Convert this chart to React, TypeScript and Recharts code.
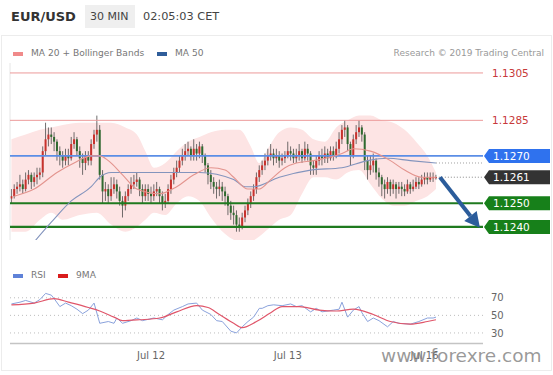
import {
  Area,
  Bar,
  ComposedChart,
  Line,
  ReferenceLine,
  XAxis,
  YAxis,
} from "recharts";

// 30 min candles, Jul 10 23:30 -> Jul 16 02:00 CET (weekend gap skipped)
const FIRST_OPEN = 1.1252;

const closes = [
  1.1253, 1.1256, 1.1257, 1.1258, 1.1256, 1.126, 1.1262, 1.1259, 1.1261, 1.1262,
  1.1263, 1.1272, 1.1277, 1.1279, 1.1278, 1.1276, 1.1272, 1.127, 1.1268, 1.127,
  1.1269, 1.1275, 1.1277, 1.1272, 1.1269, 1.1267, 1.127, 1.1268, 1.1275, 1.1279,
  1.1281, 1.1262, 1.1255, 1.1256, 1.1253, 1.1256, 1.1258, 1.1255, 1.1251, 1.1249,
  1.1253, 1.1256, 1.1258, 1.1259, 1.126, 1.1256, 1.1253, 1.1256, 1.1254, 1.1253,
  1.1255, 1.1256, 1.1253, 1.125, 1.1251, 1.1256, 1.126, 1.1263, 1.1265, 1.1268,
  1.127, 1.1272, 1.1273, 1.127, 1.1273, 1.1271, 1.1274, 1.127, 1.1266, 1.1262,
  1.1259, 1.1257, 1.1256, 1.1257, 1.1255, 1.1253, 1.1249, 1.1246, 1.1245, 1.1241,
  1.124, 1.1244, 1.1247, 1.125, 1.1253, 1.1256, 1.1261, 1.1264, 1.1266, 1.1268,
  1.127, 1.1271, 1.1269, 1.127, 1.1268, 1.1269, 1.127, 1.1272, 1.1271, 1.1269,
  1.127, 1.1272, 1.1269, 1.1273, 1.1271, 1.1266, 1.1265, 1.1268, 1.127, 1.1269,
  1.1271, 1.1269, 1.1272, 1.127, 1.1273, 1.1277, 1.1281, 1.1282, 1.1275, 1.127,
  1.1277, 1.128, 1.1282, 1.1279, 1.1268, 1.1264, 1.1266, 1.1268, 1.1263, 1.1261,
  1.1258, 1.1256, 1.1259, 1.1256, 1.1258, 1.1256, 1.1257, 1.1256, 1.1255, 1.1258,
  1.1256, 1.1257, 1.1259, 1.1258, 1.126, 1.1261, 1.126, 1.1261, 1.1261, 1.1261,
];

const highs = [
  1.1256, 1.1258, 1.1259, 1.1262, 1.126, 1.1263, 1.1264, 1.1263, 1.1263, 1.1265,
  1.1265, 1.1274, 1.1284, 1.1282, 1.1282, 1.128, 1.1277, 1.1274, 1.1272, 1.1273,
  1.1273, 1.1278, 1.128, 1.1278, 1.1274, 1.1271, 1.1272, 1.1272, 1.1277, 1.1281,
  1.1287, 1.1283, 1.1264, 1.1259, 1.1258, 1.1261, 1.1261, 1.126, 1.1257, 1.1253,
  1.1255, 1.1258, 1.1261, 1.1262, 1.1263, 1.1261, 1.1258, 1.1258, 1.1258, 1.1257,
  1.1258, 1.1259, 1.1257, 1.1255, 1.1254, 1.1258, 1.1262, 1.1265, 1.1268, 1.127,
  1.1273, 1.1275, 1.1276, 1.1274, 1.1277, 1.1275, 1.1276, 1.1275, 1.1271, 1.1267,
  1.1264, 1.1261, 1.1259, 1.126, 1.1259, 1.1257, 1.1254, 1.1251, 1.1249, 1.1247,
  1.1244, 1.1246, 1.1249, 1.1252, 1.1255, 1.1258, 1.1263, 1.1266, 1.1268, 1.1271,
  1.1273, 1.1275, 1.1273, 1.1273, 1.1272, 1.1271, 1.1272, 1.1276, 1.1274, 1.1273,
  1.1273, 1.1275, 1.1273, 1.1276, 1.1275, 1.1272, 1.1268, 1.127, 1.1272, 1.1273,
  1.1274, 1.1273, 1.1274, 1.1274, 1.1276, 1.128, 1.1283, 1.1285, 1.1283, 1.1276,
  1.1279, 1.1283, 1.1285, 1.1283, 1.128, 1.127, 1.127, 1.1271, 1.1269, 1.1265,
  1.1262, 1.126, 1.1261, 1.126, 1.126, 1.1259, 1.1259, 1.1259, 1.1258, 1.126,
  1.1259, 1.126, 1.1261, 1.1261, 1.1262, 1.1263, 1.1263, 1.1263, 1.1263, 1.1262,
];

const lows = [
  1.125, 1.1252, 1.1254, 1.1255, 1.1254, 1.1255, 1.1258, 1.1256, 1.1257, 1.1258,
  1.126, 1.1261, 1.127, 1.1274, 1.1275, 1.1272, 1.1268, 1.1266, 1.1265, 1.1266,
  1.1266, 1.1268, 1.1273, 1.127, 1.1265, 1.1262, 1.1264, 1.1266, 1.1266, 1.1273,
  1.1276, 1.126, 1.125, 1.1251, 1.125, 1.1251, 1.1254, 1.1252, 1.1249, 1.1244,
  1.1247, 1.1251, 1.1254, 1.1256, 1.1257, 1.1253, 1.125, 1.1251, 1.1251, 1.125,
  1.1251, 1.1253, 1.125, 1.1247, 1.1248, 1.125, 1.1254, 1.1258, 1.1261, 1.1263,
  1.1266, 1.1268, 1.127, 1.1268, 1.1268, 1.1268, 1.1269, 1.1267, 1.1263, 1.1258,
  1.1256, 1.1254, 1.1252, 1.1253, 1.1251, 1.1249, 1.1245, 1.1243, 1.1241, 1.1238,
  1.1238, 1.1239, 1.1242, 1.1245, 1.1248, 1.1251, 1.1254, 1.1259, 1.1262, 1.1264,
  1.1266, 1.1268, 1.1266, 1.1267, 1.1265, 1.1266, 1.1267, 1.1269, 1.1268, 1.1267,
  1.1267, 1.1268, 1.1267, 1.1268, 1.1268, 1.1262, 1.1262, 1.1262, 1.1266, 1.1266,
  1.1267, 1.1267, 1.1268, 1.1268, 1.1269, 1.1271, 1.1275, 1.1278, 1.1272, 1.1266,
  1.1269, 1.1275, 1.1278, 1.1276, 1.1264, 1.126, 1.1262, 1.1263, 1.126, 1.1257,
  1.1253, 1.1252, 1.1254, 1.1253, 1.1254, 1.1252, 1.1254, 1.1253, 1.1253, 1.1254,
  1.1254, 1.1255, 1.1256, 1.1256, 1.1257, 1.1258, 1.1258, 1.1259, 1.1259, 1.126,
];

// Bollinger bands (20), read at sample candles
const bandIdx = [
  0, 5, 10, 14, 18, 24, 30, 35, 40, 44, 47, 50, 54, 58, 62, 66, 70, 75, 80, 84,
  87, 90, 94, 98, 102, 106, 110, 114, 118, 122, 126, 130, 134, 138, 142, 146, 149,
];
const upperBand = [
  1.1277, 1.1279, 1.1281, 1.1282, 1.1283, 1.1284, 1.1284, 1.1284, 1.1282, 1.1279,
  1.1272, 1.1265, 1.1267, 1.1272, 1.1276, 1.1278, 1.128, 1.1281, 1.1281, 1.1274,
  1.1267, 1.1273, 1.128, 1.1282, 1.1281, 1.1277, 1.1276, 1.1282, 1.1285, 1.1287,
  1.1287, 1.1285, 1.1284, 1.1281, 1.1276, 1.127, 1.1263,
];
const lowerBand = [
  1.1238, 1.1238, 1.1243, 1.1246, 1.1243, 1.1245, 1.1246, 1.1241, 1.1238, 1.124,
  1.1243, 1.1246, 1.1245, 1.125, 1.1253, 1.1251, 1.1244, 1.1237, 1.1234, 1.1234,
  1.1236, 1.1239, 1.1243, 1.1245, 1.1254, 1.1261, 1.1261, 1.126, 1.1263, 1.1264,
  1.1258, 1.1252, 1.1249, 1.1249, 1.1251, 1.1253, 1.1256,
];

const ma20Idx = [
  1, 8, 16, 22, 28, 31, 34, 39, 44, 52, 58, 64, 70, 75, 78, 83, 87, 91, 96, 100,
  106, 116, 120, 126, 133, 138, 144, 149,
];
const ma20Vals = [
  1.1253, 1.1256, 1.1263, 1.1267, 1.127, 1.127, 1.1268, 1.1262, 1.1256, 1.1254,
  1.1257, 1.1262, 1.1265, 1.1264, 1.1261, 1.1256, 1.1256, 1.126, 1.1265, 1.1267,
  1.1268, 1.1271, 1.1273, 1.1272, 1.1268, 1.1264, 1.1261, 1.1261,
];

const ma50Idx = [4, 14, 21, 28, 31, 35, 49, 66, 78, 82, 85, 94, 105, 116, 125, 132, 140, 149];
const ma50Vals = [
  1.1228, 1.1242, 1.1251, 1.1257, 1.1261, 1.1263, 1.1263, 1.1263, 1.126, 1.1257,
  1.1257, 1.1261, 1.1264, 1.1265, 1.1268, 1.1269, 1.1268, 1.1267,
];

const rsiIdx = [
  0, 3, 5, 8, 10, 12, 14, 15, 17, 19, 21, 23, 25, 27, 29, 31, 34, 36, 37, 39, 42,
  44, 46, 50, 53, 55, 57, 60, 62, 65, 67, 70, 72, 74, 77, 79, 81, 83, 85, 87, 88,
  90, 92, 95, 98, 100, 102, 105, 107, 109, 113, 115, 116, 118, 120, 122, 123, 125,
  127, 129, 132, 134, 136, 140, 143, 146, 148, 149,
];
const rsiVals = [
  63, 65, 67, 64, 68, 75, 73, 69, 60, 64, 61, 57, 52, 56, 64, 41, 43, 41, 47, 41, 44,
  47, 44, 47, 45, 51, 56, 60, 63, 64, 56, 51, 44, 43, 32, 30, 37, 43, 48, 58, 58,
  61, 62, 61, 63, 60, 61, 54, 58, 54, 56, 57, 65, 48, 56, 60, 53, 43, 47, 44, 37,
  43, 41, 40, 43, 47, 47, 48,
];

const ma9Idx = [
  0, 8, 15, 20, 27, 31, 36, 39, 45, 52, 58, 65, 69, 73, 78, 81, 86, 91, 95, 101,
  108, 114, 120, 127, 133, 140, 146, 149,
];
const ma9Vals = [
  62, 64, 69, 65, 59, 55, 48, 44, 45, 47, 54, 61, 59, 51, 41, 36, 43, 53, 60, 60,
  56, 55, 57, 51, 43, 40, 43, 45,
];

const dayTicks = [49, 97, 145];
const dayLabels = ["Jul 12", "Jul 13", "Jul 16"];

const LAST_PRICE = 1.1261;
const MA50_LAST = 1.1267;
const TARGET = 1.124;

const UP = "#c8312c";
const DOWN = "#2f6a2f";
const X_DOMAIN: [number, number] = [-0.5, 165.5];

const candles = closes.map((c, i) => ({
  i,
  o: i === 0 ? FIRST_OPEN : closes[i - 1],
  h: highs[i],
  l: lows[i],
  c,
}));
const bands = bandIdx.map((i, k) => ({ i, lo: lowerBand[k], up: upperBand[k] }));
const ma20 = ma20Idx.map((i, k) => ({ i, v: ma20Vals[k] }));
const ma50 = ma50Idx.map((i, k) => ({ i, v: ma50Vals[k] }));
const rsi = rsiIdx.map((i, k) => ({ i, v: rsiVals[k] }));
const ma9 = ma9Idx.map((i, k) => ({ i, v: ma9Vals[k] }));
const lastDots = [
  { i: 150, v: LAST_PRICE },
  { i: 165.5, v: LAST_PRICE },
];
const ma50Dots = [
  { i: 149, v: MA50_LAST },
  { i: 165.5, v: MA50_LAST },
];
const arrow = [
  { i: 150.4, v: LAST_PRICE },
  { i: 161.1, v: 1.12446 },
];

function Candle(props: any) {
  const { x, y, width, height, payload } = props;
  if (!payload || typeof y !== "number") return <g />;
  const top = Math.min(y, y + height);
  const span = Math.abs(height);
  const range = payload.h - payload.l;
  const at = (p: number) => top + (range ? ((payload.h - p) / range) * span : 0);
  const cx = x + width / 2;
  const yo = at(payload.o);
  const yc = at(payload.c);
  const bodyTop = Math.min(yo, yc);
  const bodyH = Math.max(1, Math.abs(yc - yo));
  return (
    <g>
      <line x1={cx} x2={cx} y1={top} y2={top + span} stroke="#4a4a4a" strokeWidth={0.8} />
      <rect
        x={cx - 1}
        y={bodyTop}
        width={2}
        height={bodyH}
        fill={payload.c >= payload.o ? UP : DOWN}
      />
    </g>
  );
}

function Tag({ viewBox, text, fill, boxed }: any) {
  const x = viewBox.x + viewBox.width + 1;
  const y = viewBox.y;
  if (!boxed) {
    return (
      <text x={x + 8} y={y + 4} fill={fill} fontSize={10.5}>
        {text}
      </text>
    );
  }
  return (
    <g>
      <polygon
        points={`${x},${y} ${x + 5},${y - 7} ${x + 66},${y - 7} ${x + 66},${y + 7} ${x + 5},${y + 7}`}
        fill={fill}
      />
      <text x={x + 9} y={y + 4} fill="#fff" fontSize={10.5}>
        {text}
      </text>
    </g>
  );
}

function ArrowHead(props: any) {
  const { cx, cy, index } = props;
  if (index !== 1) return <g key={`a${index}`} />;
  return (
    <polygon
      key="head"
      points="15,0 0,-8 0,8"
      fill="#2b5c9b"
      transform={`translate(${cx},${cy}) rotate(51)`}
    />
  );
}

function Swatch({ left, top, color }: { left: number; top: number; color: string }) {
  return (
    <div
      style={{ position: "absolute", left, top, width: 10, height: 4, background: color }}
    />
  );
}

function Txt({ left, top, size, color, children, weight }: any) {
  return (
    <div
      style={{
        position: "absolute",
        left,
        top,
        fontSize: size,
        color,
        fontWeight: weight,
        lineHeight: 1,
        whiteSpace: "nowrap",
      }}
    >
      {children}
    </div>
  );
}

export default function App() {
  return (
    <div
      style={{
        position: "absolute",
        left: 0,
        top: 0,
        width: 553,
        height: 375,
        background: "#fff",
        fontFamily: "'DejaVu Sans', sans-serif",
        overflow: "hidden",
      }}
    >
      <Txt left={11} top={10} size={13} color="#333" weight="bold">
        EUR/USD
      </Txt>
      <div
        style={{
          position: "absolute",
          left: 85,
          top: 5,
          width: 50,
          height: 23,
          background: "#efefef",
        }}
      />
      <Txt left={90} top={11} size={11} color="#444">
        30 MIN
      </Txt>
      <Txt left={143} top={11} size={11.3} color="#444">
        02:05:03 CET
      </Txt>

      <div
        style={{
          position: "absolute",
          left: 1,
          top: 35,
          width: 549,
          height: 334,
          border: "1px solid #ececec",
        }}
      />

      <Swatch left={13} top={52} color="#f08a8a" />
      <Txt left={31} top={49} size={9.1} color="#777">
        MA 20 + Bollinger Bands
      </Txt>
      <Swatch left={157} top={52} color="#2f5d9a" />
      <Txt left={175} top={49} size={9.1} color="#777">
        MA 50
      </Txt>
      <div
        style={{
          position: "absolute",
          right: 9,
          top: 49,
          fontSize: 9,
          color: "#999",
          lineHeight: 1,
          whiteSpace: "nowrap",
        }}
      >
        Research © 2019 Trading Central
      </div>

      <div style={{ position: "absolute", left: 0, top: 0 }}>
        <ComposedChart
          width={553}
          height={250}
          data={candles}
          margin={{ top: 63, right: 70, bottom: 10, left: 10 }}
        >
          <XAxis type="number" dataKey="i" domain={X_DOMAIN} hide />
          <YAxis type="number" domain={[1.12345, 1.13092]} allowDataOverflow hide />
          <Area
            data={bands}
            dataKey={(d: any) => [d.lo, d.up]}
            type="monotone"
            fill="#fde4e4"
            fillOpacity={1}
            stroke="none"
            isAnimationActive={false}
          />
          <ReferenceLine x={-0.5} stroke="#e6e6e6" />
          <ReferenceLine
            y={1.1305}
            stroke="#ec9a9a"
            label={(p: any) => <Tag viewBox={p.viewBox} text="1.1305" fill="#c73a3a" />}
          />
          <ReferenceLine
            y={1.1285}
            stroke="#ec9a9a"
            label={(p: any) => <Tag viewBox={p.viewBox} text="1.1285" fill="#c73a3a" />}
          />
          <ReferenceLine
            y={1.127}
            stroke="#5b8ee6"
            strokeWidth={1.6}
            label={(p: any) => <Tag viewBox={p.viewBox} text="1.1270" fill="#2f72ee" boxed />}
          />
          <ReferenceLine
            y={LAST_PRICE}
            stroke="none"
            label={(p: any) => <Tag viewBox={p.viewBox} text="1.1261" fill="#333" boxed />}
          />
          <ReferenceLine
            y={1.125}
            stroke="#1f7a1f"
            strokeWidth={2.2}
            label={(p: any) => <Tag viewBox={p.viewBox} text="1.1250" fill="#17801a" boxed />}
          />
          <ReferenceLine
            y={TARGET}
            stroke="#1f7a1f"
            strokeWidth={2.2}
            label={(p: any) => <Tag viewBox={p.viewBox} text="1.1240" fill="#17801a" boxed />}
          />
          <Line
            data={ma50}
            dataKey="v"
            type="monotone"
            stroke="#8394bd"
            strokeWidth={1.1}
            dot={false}
            isAnimationActive={false}
          />
          <Line
            data={ma20}
            dataKey="v"
            type="monotone"
            stroke="#e3948e"
            strokeWidth={1.1}
            dot={false}
            isAnimationActive={false}
          />
          <Bar
            dataKey={(d: any) => [d.l, d.h]}
            barSize={2}
            shape={(p: any) => <Candle {...p} />}
            isAnimationActive={false}
          />
          <Line
            data={ma50Dots}
            dataKey="v"
            stroke="#a0a0a0"
            strokeDasharray="1 2"
            dot={false}
            isAnimationActive={false}
          />
          <Line
            data={lastDots}
            dataKey="v"
            stroke="#888"
            strokeDasharray="1 2"
            dot={false}
            isAnimationActive={false}
          />
          <Line
            data={arrow}
            dataKey="v"
            stroke="#2b5c9b"
            strokeWidth={4}
            dot={(p: any) => <ArrowHead {...p} />}
            isAnimationActive={false}
          />
        </ComposedChart>
      </div>

      <Swatch left={13} top={274} color="#5f82d8" />
      <Txt left={31} top={271} size={9.1} color="#777">
        RSI
      </Txt>
      <Swatch left={58} top={274} color="#d91c1c" />
      <Txt left={76} top={271} size={9.1} color="#777">
        9MA
      </Txt>

      <div style={{ position: "absolute", left: 0, top: 265 }}>
        <ComposedChart
          width={553}
          height={100}
          data={rsi}
          margin={{ top: 24, right: 0, bottom: 1.5, left: 10 }}
        >
          <XAxis
            type="number"
            dataKey="i"
            domain={X_DOMAIN}
            ticks={dayTicks}
            tickFormatter={(v: number) => dayLabels[dayTicks.indexOf(v)] ?? ""}
            height={20}
            axisLine={{ stroke: "#c4c4c4", strokeWidth: 1.5 }}
            tickLine={false}
            tick={{ fill: "#666", fontSize: 10 }}
          />
          <YAxis
            orientation="right"
            type="number"
            domain={[18, 80]}
            ticks={[30, 50, 70]}
            width={70}
            axisLine={false}
            tickLine={false}
            tick={{ fill: "#666", fontSize: 10 }}
          />
          <ReferenceLine y={70} stroke="#bdbdbd" strokeDasharray="1 3" />
          <ReferenceLine y={50} stroke="#bdbdbd" strokeDasharray="1 3" />
          <ReferenceLine y={30} stroke="#bdbdbd" strokeDasharray="1 3" />
          <Line
            dataKey="v"
            type="linear"
            stroke="#8aa2dc"
            strokeWidth={1}
            dot={false}
            isAnimationActive={false}
          />
          <Line
            data={ma9}
            dataKey="v"
            type="monotone"
            stroke="#e0566a"
            strokeWidth={1.2}
            dot={false}
            isAnimationActive={false}
          />
        </ComposedChart>
      </div>

      <div
        style={{
          position: "absolute",
          left: 381,
          top: 347,
          fontSize: 18.5,
          color: "rgba(120,120,120,0.75)",
          lineHeight: 1,
          whiteSpace: "nowrap",
        }}
      >
        www.forexre.com
      </div>
    </div>
  );
}
